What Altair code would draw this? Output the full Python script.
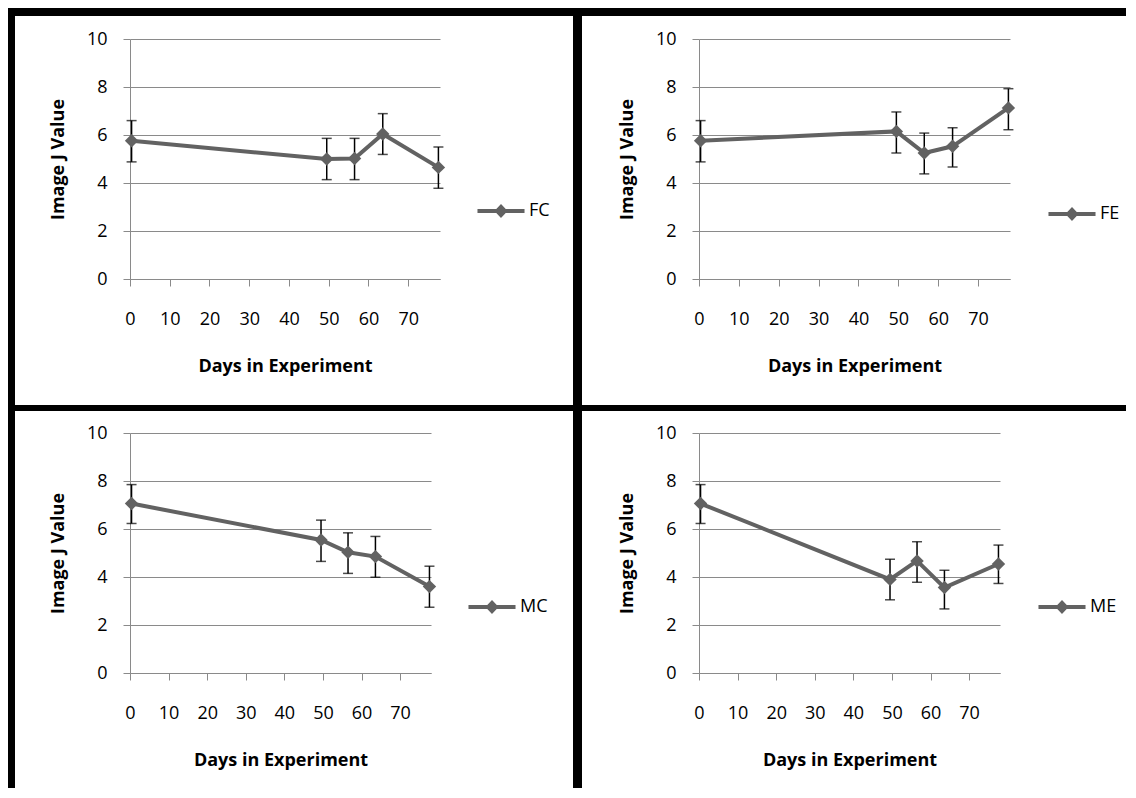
import altair as alt
import pandas as pd

# ---- data ----
DAYS = [0.4, 49.5, 56.5, 63.6, 77.6]

FC_VAL = [5.76, 5.00, 5.02, 6.04, 4.65]
FC_LO = [4.88, 4.14, 4.14, 5.19, 3.78]
FC_HI = [6.60, 5.86, 5.86, 6.89, 5.50]

FE_VAL = [5.76, 6.15, 5.25, 5.53, 7.13]
FE_LO = [4.88, 5.25, 4.38, 4.67, 6.22]
FE_HI = [6.60, 6.96, 6.08, 6.30, 7.93]

MC_VAL = [7.06, 5.54, 5.03, 4.85, 3.60]
MC_LO = [6.23, 4.65, 4.15, 3.99, 2.74]
MC_HI = [7.85, 6.37, 5.84, 5.69, 4.45]

ME_VAL = [7.06, 3.90, 4.67, 3.56, 4.54]
ME_LO = [6.23, 3.05, 3.78, 2.67, 3.73]
ME_HI = [7.85, 4.74, 5.47, 4.28, 5.33]

X_TICKS = [0, 10, 20, 30, 40, 50, 60, 70]
Y_TICKS = [0, 2, 4, 6, 8, 10]
X_TITLE = "Days in Experiment"
Y_TITLE = "Image J Value"

# ---- style ----
FONT = "Open Sans"
GRAY = "#626262"
GRID = "#8a8a8a"
LEG_PATH = "M-0.98,0L0.98,0M0,-0.17L0.16,0L0,0.17L-0.16,0Z"


def panel(name, vals, lo, hi, width, lx, ly, borders=None):
    df = pd.DataFrame({"day": DAYS, "value": vals, "lo": lo, "hi": hi, "series": [name] * len(DAYS)})
    xscale = alt.Scale(domain=[0, 78], nice=False, zero=False)
    yscale = alt.Scale(domain=[0, 10], nice=False)
    xaxis = alt.Axis(values=X_TICKS, grid=False, labelPadding=24, labelFlush=False,
                     labelOverlap=False, titleY=78, titleBaseline="top")
    yaxis = alt.Axis(values=Y_TICKS, grid=True, labelPadding=16, titleX=-72,
                     titleBaseline="middle", titleAngle=270)
    base = alt.Chart(df)
    err = base.mark_errorbar(ticks=True, size=10, thickness=1.5, color="black").encode(
        x=alt.X("day:Q", scale=xscale, axis=xaxis, title=X_TITLE),
        y=alt.Y("lo:Q", scale=yscale, axis=yaxis, title=Y_TITLE),
        y2="hi:Q",
    )
    line = base.mark_line(color=GRAY, strokeWidth=4).encode(
        x=alt.X("day:Q", title=X_TITLE),
        y=alt.Y("value:Q", title=Y_TITLE),
    )
    pts = base.mark_point(shape="diamond", filled=True, size=180, opacity=1).encode(
        x=alt.X("day:Q", title=X_TITLE),
        y=alt.Y("value:Q", title=Y_TITLE),
        color=alt.Color(
            "series:N",
            scale=alt.Scale(domain=[name], range=[GRAY]),
            legend=alt.Legend(
                orient="none", legendX=lx, legendY=ly, title=None, padding=0,
                symbolType=LEG_PATH, symbolSize=2304, symbolStrokeWidth=4,
                symbolFillColor=GRAY, symbolStrokeColor=GRAY,
                labelFont=FONT, labelFontSize=18, labelColor="black", labelOffset=2,
            ),
        ),
    )
    layers = []
    if borders:
        one = pd.DataFrame({"k": [0]})
        for (x1, x2, y1, y2) in borders:
            layers.append(
                alt.Chart(one).mark_rect(color="black").encode(
                    x=alt.value(x1), x2=alt.value(x2), y=alt.value(y1), y2=alt.value(y2)
                )
            )
    layers += [err, line, pts]
    return alt.layer(*layers).properties(width=width, height=240)


# decorative frame lines (pixels relative to first panel's plot area)
BORDERS = [
    (-122, 996, -31, -23),   # top
    (-122, -115, -31, 749),  # left
    (443, 452, -31, 749),    # middle vertical
    (-122, 996, 366, 372),   # middle horizontal
]

A = panel("FC", FC_VAL, FC_LO, FC_HI, 310, 345, 146, BORDERS)
B = panel("FE", FE_VAL, FE_LO, FE_HI, 311, 347, 149)
C = panel("MC", MC_VAL, MC_LO, MC_HI, 301, 336, 148)
D = panel("ME", ME_VAL, ME_LO, ME_HI, 301, 337, 148)

chart = (
    alt.concat(A, B, C, D, columns=2, bounds="flush",
               spacing={"row": 154, "column": 259})
    .resolve_scale(color="independent")
    .resolve_legend(color="independent")
    .properties(padding=0, background="white")
    .configure_view(stroke=None)
    .configure_axis(
        labelFont=FONT, labelFontSize=18, labelColor="black",
        titleFont=FONT, titleFontSize=18, titleFontWeight="bold", titleColor="black",
        domainColor=GRID, tickColor=GRID, gridColor=GRID,
        tickSize=7, domainWidth=1, gridWidth=1, tickWidth=1,
    )
)

chart.save("out.html", embed_options={"renderer": "svg", "actions": False})
